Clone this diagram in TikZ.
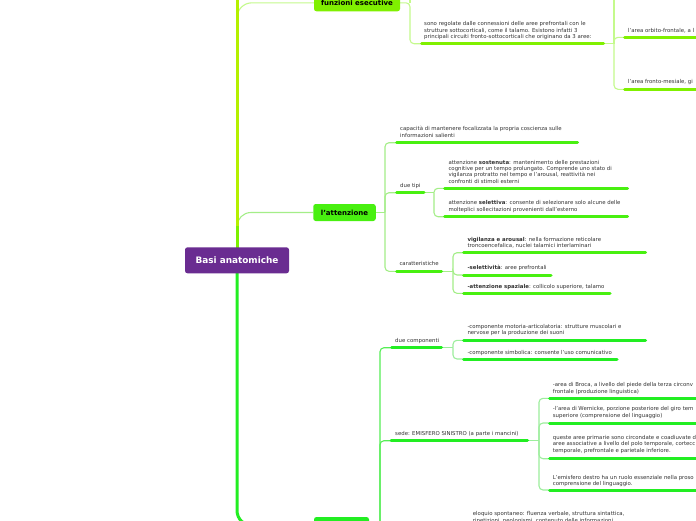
\documentclass[tikz,border=0pt]{standalone}
\usepackage{fontspec}
\setmainfont{DejaVu Sans}
\definecolor{txt}{HTML}{333333}
\definecolor{purp}{HTML}{6A2C91}
\definecolor{fecol}{HTML}{80F000}
\definecolor{felight}{HTML}{C4FA8C}
\definecolor{atcol}{HTML}{48F010}
\definecolor{atlight}{HTML}{A4EE88}
\definecolor{bocol}{HTML}{22EE22}
\definecolor{bomid}{HTML}{55EE55}
\definecolor{bolight}{HTML}{9CEE9C}
\definecolor{trunkA}{HTML}{7DF000}
\definecolor{trunkB}{HTML}{B4F000}
\pgfdeclarelayer{bg}
\pgfsetlayers{bg,main}
\newcommand\lns[1]{\begin{tabular}[t]{@{}l@{}}#1\end{tabular}}
\begin{document}
\begin{tikzpicture}[x=1pt,y=-1pt,
  leaf/.style={anchor=base west, inner sep=0pt, text=txt, font=\fontsize{5.4}{6.4}\selectfont},
  topic/.style={rounded corners=2.5pt, inner sep=0pt, minimum height=17pt, font=\fontsize{7}{8}\selectfont\bfseries, text=black},
  ul/.style={line width=3pt, line cap=round},
  conn/.style={line width=1.1pt, rounded corners=4pt},
  trunk/.style={line width=3pt}]
\useasboundingbox (0,0) rectangle (696,520);

% main topics
\node[topic, fill=purp, text=white, minimum width=104pt, minimum height=26pt, font=\fontsize{8.9}{10}\selectfont\bfseries] (root) at (237,260.3) {Basi anatomiche};
\node[topic, fill=fecol, minimum width=86pt] (fe) at (357,2.8) {funzioni esecutive};
\node[topic, fill=atcol, minimum width=62.5pt] (att) at (344.5,212.5) {l'attenzione};
\node[topic, fill=bocol, minimum width=55pt] (bot) at (341.5,525.5) {};

% funzioni esecutive subtree
\node[leaf] (sono) at (424,25.8) {\lns{sono regolate dalle connessioni delle aree prefrontali con le\\strutture sottocorticali, come il talamo. Esistono infatti 3\\principali circuiti fronto-sottocorticali che originano da 3 aree:}};
\node[leaf] (orb) at (628,32.5) {l'area orbito-frontale, a l};
\node[leaf] (fm) at (628,83.5) {l'area fronto-mesiale, gi};
\coordinate (sonoL) at (421.5,43.7); \coordinate (sonoR) at (603.5,43.7);
\coordinate (orbL) at (624.5,37.3); \coordinate (orbR) at (700,37.3);
\coordinate (fmL) at (624.5,89.3); \coordinate (fmR) at (700,89.3);
\coordinate (feJ) at (410,2.8); \coordinate (feUp) at (410,-20);
\coordinate (feJ2) at (614,43.7); \coordinate (feUp2) at (614,-20);

% attenzione subtree
\node[leaf] (cap) at (400,130.8) {\lns{capacità di mantenere focalizzata la propria coscienza sulle\\informazioni salienti}};
\node[leaf] (tipi) at (400,187.5) {due tipi};
\node[leaf] (sost) at (448.3,164) {\lns{attenzione \textbf{sostenuta}: mantenimento delle prestazioni\\cognitive per un tempo prolungato. Comprende uno stato di\\vigilanza protratto nel tempo e l'arousal, reattività nei\\confronti di stimoli esterni}};
\node[leaf] (sel) at (448.3,204.8) {\lns{attenzione \textbf{selettiva}: consente di selezionare solo alcune delle\\molteplici sollecitazioni provenienti dall'esterno}};
\node[leaf] (car) at (399.3,265.8) {caratteristiche};
\node[leaf] (vig) at (467.3,241.1) {\lns{\textbf{vigilanza e arousal}: nella formazione reticolare\\troncoencefalica, nuclei talamici interlaminari}};
\node[leaf] (selt) at (467.3,269.8) {\textbf{-selettività}: aree prefrontali};
\node[leaf] (spaz) at (467.3,288.1) {\textbf{-attenzione spaziale}: collicolo superiore, talamo};
\coordinate (capL) at (396.5,142.7); \coordinate (capR) at (577.5,142.7);
\coordinate (tipiL) at (396.5,192.7); \coordinate (tipiR) at (424,192.7);
\coordinate (sostL) at (444.5,188.3); \coordinate (sostR) at (627.5,188.3);
\coordinate (selL) at (444.5,216.7); \coordinate (selR) at (627.5,216.7);
\coordinate (carL) at (396.5,271.3); \coordinate (carR) at (441.5,271.3);
\coordinate (vigL) at (463.5,252.7); \coordinate (vigR) at (645.5,252.7);
\coordinate (seltL) at (463.5,275); \coordinate (seltR) at (551,275);
\coordinate (spazL) at (463.5,293.3); \coordinate (spazR) at (610,293.3);
\coordinate (attJ) at (385,212.5);
\coordinate (tipiJ) at (434,192.7);
\coordinate (carJ) at (453,271.3);

% bottom subtree
\node[leaf] (dc) at (395,342.8) {due componenti};
\node[leaf] (mot) at (467.3,328.5) {\lns{-componente motoria-articolatoria: strutture muscolari e\\nervose per la produzione dei suoni}};
\node[leaf] (sim) at (467.3,354.1) {-componente simbolica: consente l'uso comunicativo};
\node[leaf] (sede) at (395,435.1) {sede: EMISFERO SINISTRO (a parte i mancini)};
\node[leaf] (broca) at (552.7,386.8) {\lns{-area di Broca, a livello del piede della terza circonv\\frontale (produzione linguistica)}};
\node[leaf] (wer) at (552.7,410.8) {\lns{-l'area di Wernicke, porzione posteriore del giro tem\\superiore (comprensione del linguaggio)}};
\node[leaf] (que) at (552.7,439.3) {\lns{queste aree primarie sono circondate e coadiuvate d\\aree associative a livello del polo temporale, cortecc\\temporale, prefrontale e parietale inferiore.}};
\node[leaf] (emi) at (552.7,479.5) {\lns{L'emisfero destro ha un ruolo essenziale nella proso\\comprensione del linguaggio.}};
\node[leaf] (elo) at (472.7,515.8) {\lns{eloquio spontaneo: fluenza verbale, struttura sintattica,\\ripetizioni, neologismi, contenuto delle informazioni}};
\coordinate (dcL) at (391.5,347.7); \coordinate (dcR) at (441.5,347.7);
\coordinate (motL) at (463.5,340.3); \coordinate (motR) at (645.5,340.3);
\coordinate (simL) at (463.5,359); \coordinate (simR) at (617,359);
\coordinate (sedeL) at (391,440.7); \coordinate (sedeR) at (527.5,440.7);
\coordinate (brocaL) at (549.5,398.3); \coordinate (brocaR) at (700,398.3);
\coordinate (werL) at (549.5,423); \coordinate (werR) at (700,423);
\coordinate (queL) at (549.5,458.7); \coordinate (queR) at (700,458.7);
\coordinate (emiL) at (549.5,490); \coordinate (emiR) at (700,490);
\coordinate (boJ) at (380,525.5);
\coordinate (dcJ) at (453,347.7);
\coordinate (sedeJ) at (539,440.7);
\coordinate (trUp) at (237,-10);
\coordinate (trMid) at (237,226);

\begin{pgfonlayer}{bg}
\fill[white] (0,0) rectangle (696,520);
% main connectors
\draw[conn, felight, rounded corners=15pt] (root.center) |- (fe.west);
\draw[conn, atlight, rounded corners=14pt] (root.center) |- (att.west);
\draw[trunk, trunkA] (root.center) -- (trMid);
\draw[trunk, trunkB] (trMid) -- (trUp);
\draw[trunk, bocol, rounded corners=15pt] (root.center) |- (bot.west);

% fe connectors
\draw[conn, felight] (fe.east) -- (feJ) |- (sonoL);
\draw[conn, felight] (feJ) -- (feUp);
\draw[conn, felight] (sonoR) -- (feJ2);
\draw[conn, felight] (feJ2) |- (orbL);
\draw[conn, felight] (feJ2) |- (fmL);
\draw[conn, felight] (feJ2) -- (feUp2);
\draw[ul, fecol] (sonoL) -- (sonoR);
\draw[ul, fecol] (orbL) -- (orbR);
\draw[ul, fecol] (fmL) -- (fmR);

% attenzione connectors
\draw[conn, atlight] (att.east) -- (attJ);
\draw[conn, atlight] (attJ) |- (capL);
\draw[conn, atlight] (attJ) |- (tipiL);
\draw[conn, atlight] (attJ) |- (carL);
\draw[conn, atlight] (tipiR) -- (tipiJ);
\draw[conn, atlight] (tipiJ) |- (sostL);
\draw[conn, atlight] (tipiJ) |- (selL);
\draw[conn, atlight] (carR) -- (carJ);
\draw[conn, atlight] (carJ) |- (vigL);
\draw[conn, atlight] (carJ) |- (seltL);
\draw[conn, atlight] (carJ) |- (spazL);
\foreach \n in {cap,tipi,sost,sel,car,vig,selt,spaz}
  \draw[ul, atcol] (\n L) -- (\n R);

% bottom connectors
\draw[conn, bomid] (bot.east) -- (boJ);
\draw[conn, bomid] (boJ) |- (dcL);
\draw[conn, bomid] (boJ) |- (sedeL);
\draw[conn, bolight] (dcR) -- (dcJ);
\draw[conn, bolight] (dcJ) |- (motL);
\draw[conn, bolight] (dcJ) |- (simL);
\draw[conn, bolight] (sedeR) -- (sedeJ);
\draw[conn, bolight] (sedeJ) |- (brocaL);
\draw[conn, bolight] (sedeJ) |- (werL);
\draw[conn, bolight] (sedeJ) |- (queL);
\draw[conn, bolight] (sedeJ) |- (emiL);
\foreach \n in {dc,mot,sim,sede,broca,wer,que,emi}
  \draw[ul, bocol] (\n L) -- (\n R);
\end{pgfonlayer}
\end{tikzpicture}
\end{document}
